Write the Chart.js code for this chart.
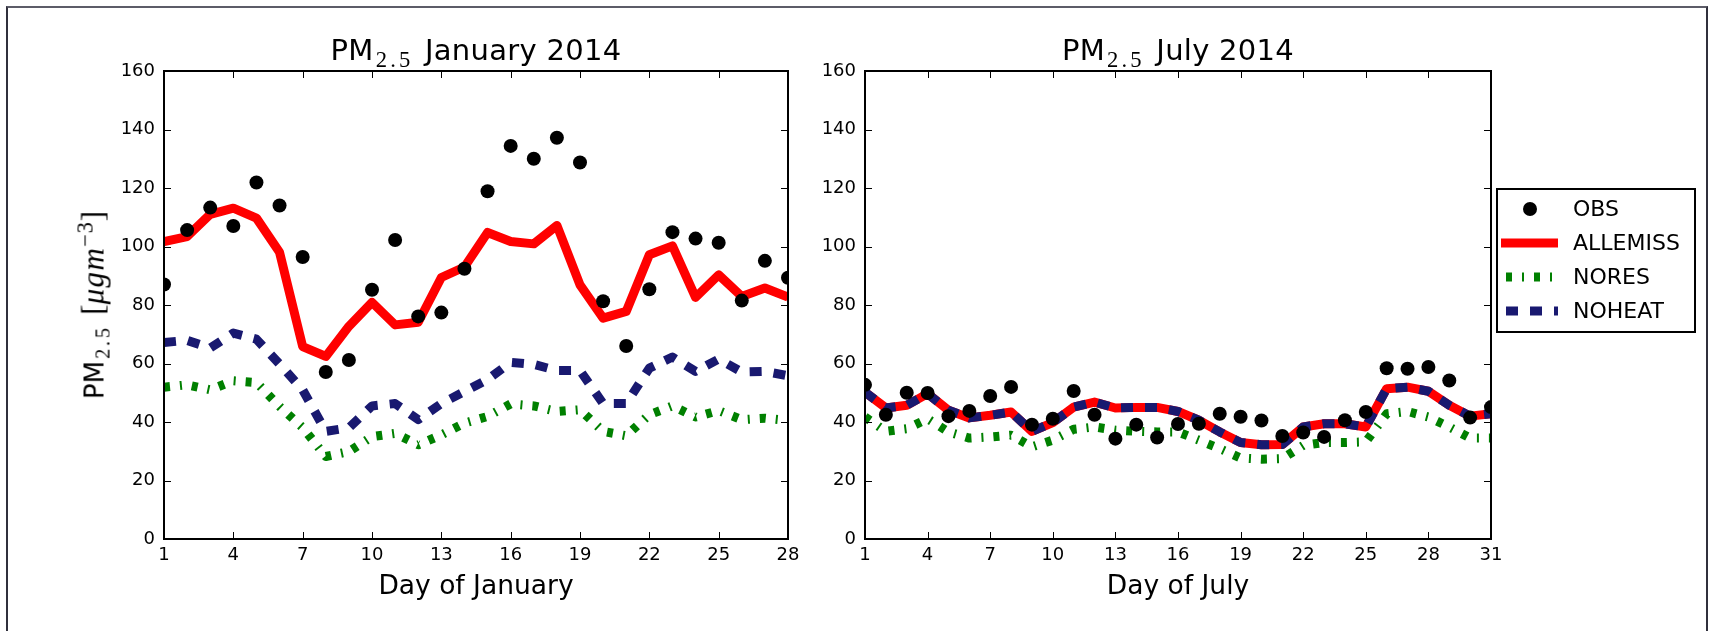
<!DOCTYPE html>
<html>
<head>
<meta charset="utf-8">
<script src="https://cdn.jsdelivr.net/npm/chart.js@4"></script>
<style>
  html, body { margin: 0; padding: 0; background: #fff; }
  #page { position: relative; width: 1711px; height: 631px; overflow: hidden; font-family: "DejaVu Sans", sans-serif; color: #000; }
  #frame { position: absolute; left: 6px; top: 6px; width: 1698px; height: 640px;
           border-top: 2px solid #5c5c68; border-left: 2px solid #30303c; border-right: 2px solid #30303c; }
  .box { position: absolute; top: 0; height: 631px; }
  .title { position: absolute; top: 36px; font-size: 29px; line-height: 29px; white-space: nowrap; transform: translateX(-50%); letter-spacing: 0.01em; }
  .xlabel { position: absolute; top: 572px; font-size: 26.5px; line-height: 26px; white-space: nowrap; transform: translateX(-50%); }
  .ylabel { position: absolute; font-size: 26px; line-height: 26px; white-space: nowrap; transform: translate(-50%, -50%) rotate(-90deg); }
  .m { font-family: "Liberation Serif", "DejaVu Serif", serif; font-size: 1.2em; }
  .m i { letter-spacing: 0.04em; }
  .sub { font-family: "Liberation Serif", "DejaVu Serif", serif; font-size: 0.78em; position: relative; top: 0.3em; letter-spacing: 0.14em; margin-left: 2px; margin-right: 2px; }
  .sup { font-family: "Liberation Serif", "DejaVu Serif", serif; font-size: 0.72em; position: relative; top: -0.5em; letter-spacing: 0.04em; }
</style>
</head>
<body>
<div id="page">
  <div id="frame"></div>
  <div class="box" style="left:0;width:830px"><canvas id="jan"></canvas></div>
  <div class="box" style="left:800px;width:911px"><canvas id="jul"></canvas></div>

  <div class="title" style="left:476px">PM<span class="sub">2.5</span> January 2014</div>
  <div class="title" style="left:1178px">PM<span class="sub">2.5</span> July 2014</div>
  <div class="xlabel" style="left:476px">Day of January</div>
  <div class="xlabel" style="left:1178px">Day of July</div>
  <div class="ylabel" style="left:95px;top:305px">PM<span class="sub">2.5</span> <span class="m">[<i>μgm</i><span class="sup">−3</span>]</span></div>
</div>

<script>
// ---- data -------------------------------------------------------------
const janDays = [1, 2, 3, 4, 5, 6, 7, 8, 9, 10, 11, 12, 13, 14, 15, 16, 17, 18, 19, 20, 21, 22, 23, 24, 25, 26, 27, 28];
const julDays = [1, 2, 3, 4, 5, 6, 7, 8, 9, 10, 11, 12, 13, 14, 15, 16, 17, 18, 19, 20, 21, 22, 23, 24, 25, 26, 27, 28, 29, 30, 31];

const janObs      = [87, 105.6, 113.3, 107, 121.9, 114, 96.4, 57.1, 61.2, 85.2, 102.2, 76.1, 77.4, 92.4, 118.9, 134.4, 130, 137.2, 128.7, 81.3, 66, 85.4, 104.9, 102.7, 101.3, 81.5, 95.1, 89.3];
const janAllemiss = [101.7, 103.4, 111, 113.1, 109.7, 98, 65.8, 62.4, 72.7, 80.9, 73.2, 74.1, 89.4, 93, 104.8, 101.7, 100.9, 107.2, 86.9, 75.5, 77.8, 97.2, 100.2, 82.6, 90.3, 82.9, 85.8, 82.7];
const janNores    = [51.9, 52.7, 51, 54.1, 53.5, 45.3, 38.1, 28.2, 29.9, 35, 36.1, 32.2, 35.6, 39.6, 41.9, 46.2, 45.5, 43.6, 44.2, 36.8, 35.3, 42.5, 45.5, 41.7, 43.9, 40.8, 41.3, 40.5];
const janNoheat   = [67.2, 67.9, 65.3, 70.4, 68.3, 59.8, 51, 36.8, 38, 45.5, 46.3, 40.8, 46.3, 50.4, 54.5, 60.4, 59.7, 57.6, 57.6, 46.3, 46.3, 58.4, 62.2, 57.3, 61.5, 57.1, 57.3, 55.8];

const julObs      = [52.7, 42.5, 50, 49.9, 42, 43.8, 48.9, 52, 39.1, 41.1, 50.6, 42.5, 34.3, 39.1, 34.7, 39.3, 39.4, 42.8, 41.8, 40.5, 35.2, 36.4, 34.9, 40.6, 43.4, 58.4, 58.2, 58.8, 54.2, 41.5, 45.1];
const julAllemiss = [50.2, 44.8, 45.7, 49.7, 44, 41.4, 42.3, 43.4, 36.8, 39.8, 45.1, 46.8, 44.8, 45, 45, 43.6, 40.6, 36.6, 33, 32.2, 32.3, 38.3, 39.4, 39.4, 38.3, 51.4, 51.9, 50.5, 45.7, 42, 42.8];
const julNores    = [41.7, 36.8, 37.7, 41.1, 36.6, 34.5, 34.9, 35.5, 31.5, 33.8, 37.5, 38.3, 37.2, 36.8, 36.6, 36.6, 33.8, 30.9, 27.7, 27.3, 27.5, 32, 33, 33, 33.2, 42.8, 43.6, 41.7, 38.3, 34.5, 34.5];
const julNoheat   = [50.2, 44.8, 45.7, 49.7, 44, 41.4, 42.3, 43.4, 36.8, 39.8, 45.1, 46.8, 44.8, 45, 45, 43.6, 40.6, 36.6, 33, 32.2, 32.3, 38.3, 39.4, 39.4, 38.3, 51.4, 51.9, 50.5, 45.7, 42, 42.8];

const janTicks = [1, 4, 7, 10, 13, 16, 19, 22, 25, 28];
const julTicks = [1, 4, 7, 10, 13, 16, 19, 22, 25, 28, 31];
const yTicks   = [0, 20, 40, 60, 80, 100, 120, 140, 160];

const seriesNames = ['OBS', 'ALLEMISS', 'NORES', 'NOHEAT'];

// ---- styling ----------------------------------------------------------
const TICK_LEN = 7;
const FONT = '"DejaVu Sans", sans-serif';

function points(days, vals) {
  return days.map((d, i) => ({ x: d, y: vals[i] }));
}

function makeDatasets(days, obs, allemiss, nores, noheat) {
  const line = { showLine: true, pointRadius: 0, borderWidth: 9, tension: 0, fill: false,
                 borderJoinStyle: 'round', borderCapStyle: 'butt', clip: 0 };
  return [
    { label: 'OBS', data: points(days, obs), showLine: false, pointRadius: 7, pointHoverRadius: 7,
      pointBackgroundColor: '#000', pointBorderWidth: 0, borderColor: '#000', order: 0, clip: 0 },
    { ...line, label: 'ALLEMISS', data: points(days, allemiss), borderColor: '#ff0000', order: 3 },
    { ...line, label: 'NORES', data: points(days, nores), borderColor: '#008000', borderDash: [6, 10, 2, 10], order: 2 },
    { ...line, label: 'NOHEAT', data: points(days, noheat), borderColor: '#191970', borderDash: [12, 12], order: 1 },
  ];
}

// inward ticks on all four sides plus the box around the axes
const axesFrame = {
  id: 'axesFrame',
  afterDatasetsDraw(chart) {
    const { ctx, chartArea: a, scales: { x, y } } = chart;
    ctx.save();
    ctx.strokeStyle = '#000';
    ctx.lineWidth = 1;
    ctx.beginPath();
    x.ticks.forEach(t => {
      const px = Math.round(x.getPixelForValue(t.value)) + 0.5;
      ctx.moveTo(px, a.bottom); ctx.lineTo(px, a.bottom - TICK_LEN);
      ctx.moveTo(px, a.top);    ctx.lineTo(px, a.top + TICK_LEN);
    });
    y.ticks.forEach(t => {
      const py = Math.round(y.getPixelForValue(t.value)) + 0.5;
      ctx.moveTo(a.left, py);  ctx.lineTo(a.left + TICK_LEN, py);
      ctx.moveTo(a.right, py); ctx.lineTo(a.right - TICK_LEN, py);
    });
    ctx.stroke();
    ctx.lineWidth = 2;
    ctx.strokeRect(a.left, a.top, a.right - a.left, a.bottom - a.top);
    ctx.restore();
  }
};

// legend box to the right of the July axes
const sideLegend = {
  id: 'sideLegend',
  afterDraw(chart, args, opts) {
    if (!opts.show) return;
    const ctx = chart.ctx;
    const left = chart.chartArea.right + 6, top = 189, w = 198, h = 143;
    ctx.save();
    ctx.fillStyle = '#fff';
    ctx.fillRect(left, top, w, h);
    ctx.strokeStyle = '#000';
    ctx.lineWidth = 2;
    ctx.strokeRect(left, top, w, h);
    ctx.font = '22px ' + FONT;
    ctx.textBaseline = 'middle';
    seriesNames.forEach((name, i) => {
      const ds = chart.data.datasets.find(d => d.label === name);
      const cy = top + 20 + i * 34;
      if (ds.showLine === false) {
        ctx.fillStyle = ds.pointBackgroundColor;
        ctx.beginPath();
        ctx.arc(left + 33, cy, 7, 0, Math.PI * 2);
        ctx.fill();
      } else {
        ctx.strokeStyle = ds.borderColor;
        ctx.lineWidth = ds.borderWidth;
        ctx.setLineDash(ds.borderDash || []);
        ctx.beginPath();
        const x0 = ds.borderDash ? left + 9 : left + 4;
        ctx.moveTo(x0, cy);
        ctx.lineTo(left + 61, cy);
        ctx.stroke();
        ctx.setLineDash([]);
      }
      ctx.fillStyle = '#000';
      ctx.fillText(name, left + 76, cy + 1);
    });
    ctx.restore();
  }
};

function buildChart(canvasId, days, ticks, datasets, yWidth, rightPad, withLegend) {
  return new Chart(document.getElementById(canvasId), {
    type: 'scatter',
    data: { datasets },
    options: {
      responsive: true,
      maintainAspectRatio: false,
      animation: false,
      events: [],
      layout: { padding: { left: 0, right: rightPad, top: 71, bottom: 0 } },
      plugins: {
        legend: { display: false },
        tooltip: { enabled: false },
        sideLegend: { show: withLegend },
      },
      scales: {
        x: {
          type: 'linear',
          min: days[0],
          max: days[days.length - 1],
          grid: { display: false, drawTicks: false },
          border: { display: false },
          ticks: { font: { family: FONT, size: 18 }, color: '#000', padding: 6, maxRotation: 0 },
          afterBuildTicks: s => { s.ticks = ticks.map(v => ({ value: v })); },
          afterFit: s => { s.height = 92; },
        },
        y: {
          min: yTicks[0],
          max: yTicks[yTicks.length - 1],
          grid: { display: false, drawTicks: false },
          border: { display: false },
          ticks: { font: { family: FONT, size: 18 }, color: '#000', padding: 9 },
          afterBuildTicks: s => { s.ticks = yTicks.map(v => ({ value: v })); },
          afterFit: s => { s.width = yWidth; },
        },
      },
    },
    plugins: [axesFrame, sideLegend],
  });
}

buildChart('jan', janDays, janTicks,
  makeDatasets(janDays, janObs, janAllemiss, janNores, janNoheat), 164, 42, false);
buildChart('jul', julDays, julTicks,
  makeDatasets(julDays, julObs, julAllemiss, julNores, julNoheat), 65, 220, true);
</script>
</body>
</html>
